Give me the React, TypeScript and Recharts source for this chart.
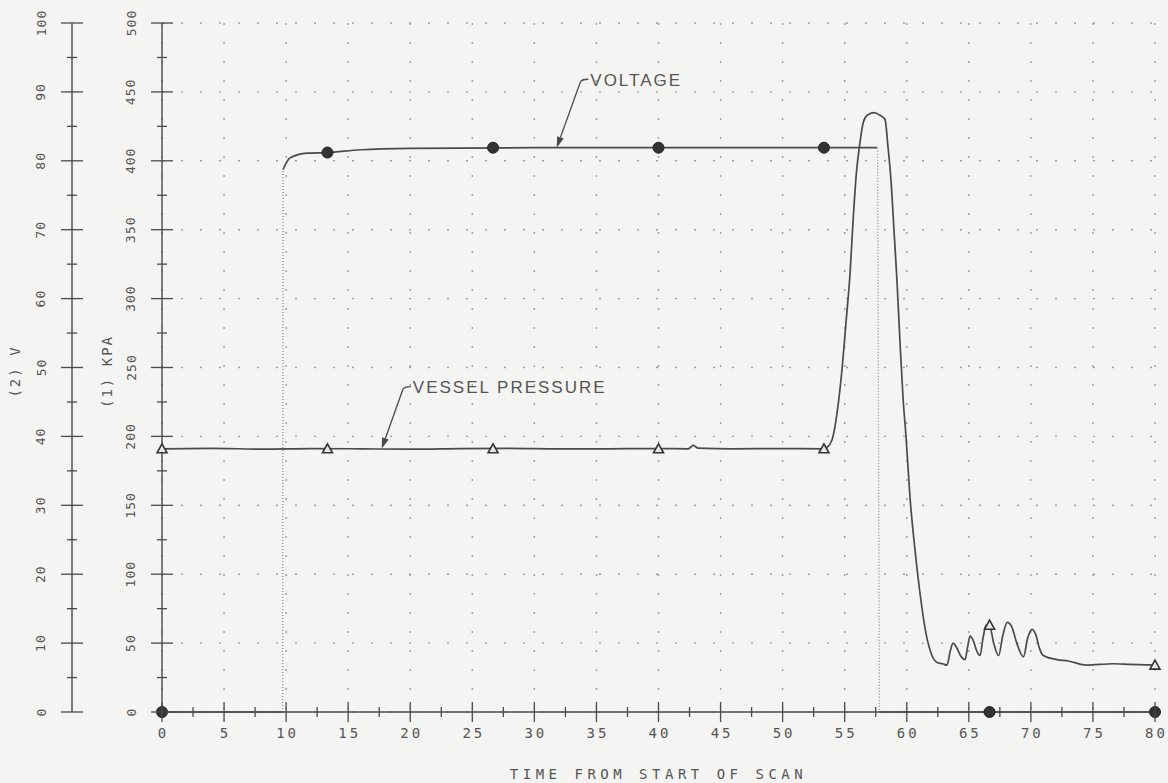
import React from 'react';
import {
  ComposedChart,
  Line,
  Scatter,
  XAxis,
  YAxis,
  CartesianGrid,
  ReferenceLine,
} from 'recharts';

// ---------- data ----------
const timeTicks = [0, 2.5, 5, 7.5, 10, 12.5, 15, 17.5, 20, 22.5, 25, 27.5, 30, 32.5, 35, 37.5, 40, 42.5, 45, 47.5, 50, 52.5, 55, 57.5, 60, 62.5, 65, 67.5, 70, 72.5, 75, 77.5, 80];
const timeGridTicks = [0, 5, 10, 15, 20, 25, 30, 35, 40, 45, 50, 55, 60, 65, 70, 75, 80];
const kpaTicks = [0, 25, 50, 75, 100, 125, 150, 175, 200, 225, 250, 275, 300, 325, 350, 375, 400, 425, 450, 475, 500];
const kpaGridTicks = [0, 50, 100, 150, 200, 250, 300, 350, 400, 450, 500];
const voltTicks = [0, 5, 10, 15, 20, 25, 30, 35, 40, 45, 50, 55, 60, 65, 70, 75, 80, 85, 90, 95, 100];

const pressure = [
  { t: 0, p: 191 }, { t: 4, p: 191.3 }, { t: 8, p: 190.8 }, { t: 12, p: 191.2 },
  { t: 16, p: 191 }, { t: 20, p: 190.7 }, { t: 24, p: 191.1 }, { t: 28, p: 191.3 },
  { t: 32, p: 190.9 }, { t: 36, p: 191 }, { t: 40, p: 191.2 }, { t: 42.4, p: 191 },
  { t: 42.8, p: 193.5 }, { t: 43.2, p: 191.5 }, { t: 46, p: 191 }, { t: 50, p: 191.2 },
  { t: 53.3, p: 191 }, { t: 53.7, p: 193 }, { t: 54.06, p: 200 }, { t: 54.4, p: 218 },
  { t: 54.8, p: 250 }, { t: 55.1, p: 282 }, { t: 55.43, p: 318 }, { t: 55.7, p: 360 },
  { t: 55.95, p: 392 }, { t: 56.21, p: 412 }, { t: 56.5, p: 428 }, { t: 56.8, p: 433 },
  { t: 57.36, p: 435 }, { t: 57.85, p: 433 }, { t: 58.25, p: 430 }, { t: 58.49, p: 410 },
  { t: 58.73, p: 386 }, { t: 58.97, p: 350 }, { t: 59.2, p: 315 }, { t: 59.46, p: 268 },
  { t: 59.7, p: 228 }, { t: 59.94, p: 200 }, { t: 60.26, p: 156 }, { t: 60.66, p: 118 },
  { t: 61.07, p: 86 }, { t: 61.55, p: 57 }, { t: 62.03, p: 41 }, { t: 62.44, p: 36 },
  { t: 62.9, p: 35 }, { t: 63.24, p: 34 }, { t: 63.5, p: 44 }, { t: 63.73, p: 50 },
  { t: 64.0, p: 47 }, { t: 64.4, p: 40 }, { t: 64.7, p: 38 }, { t: 64.9, p: 47 },
  { t: 65.1, p: 55 }, { t: 65.35, p: 52 }, { t: 65.65, p: 44 }, { t: 65.9, p: 41 },
  { t: 66.15, p: 54 }, { t: 66.4, p: 63 }, { t: 66.7, p: 62 }, { t: 67.0, p: 50 },
  { t: 67.4, p: 41 }, { t: 67.75, p: 56 }, { t: 68.1, p: 65 }, { t: 68.45, p: 62 },
  { t: 68.9, p: 49 }, { t: 69.4, p: 40 }, { t: 69.75, p: 54 }, { t: 70.1, p: 60 },
  { t: 70.4, p: 56 }, { t: 70.7, p: 46 }, { t: 71.0, p: 41 }, { t: 72.1, p: 38 },
  { t: 73, p: 37 }, { t: 74.5, p: 34 }, { t: 76.6, p: 35 }, { t: 78, p: 34.5 },
  { t: 80, p: 34 },
];

const voltage = [
  { t: 0, v: 0 }, { t: 9.7, v: 0 }, { t: 9.72, v: null },
  { t: 9.75, v: 78.7 }, { t: 10.3, v: 80.4 }, { t: 11.7, v: 81.1 }, { t: 13.3, v: 81.2 },
  { t: 16, v: 81.6 }, { t: 20, v: 81.8 }, { t: 30, v: 81.9 }, { t: 40, v: 81.9 },
  { t: 50, v: 81.9 }, { t: 57.6, v: 81.9 }, { t: 57.7, v: null },
  { t: 57.8, v: 0 }, { t: 80, v: 0 },
];

const voltageJumps = [
  { t: 9.72, v: 0 }, { t: 9.75, v: 78.7 }, { t: 9.8, v: null },
  { t: 57.65, v: 81.9 }, { t: 57.8, v: 0 },
];

const voltageMarkers = [
  { t: 0, v: 0 }, { t: 13.33, v: 81.2 }, { t: 26.67, v: 81.9 }, { t: 40, v: 81.9 },
  { t: 53.33, v: 81.9 }, { t: 66.67, v: 0 }, { t: 80, v: 0 },
];

const pressureMarkers = [
  { t: 0, p: 191 }, { t: 13.33, p: 191 }, { t: 26.67, p: 191 }, { t: 40, p: 191 },
  { t: 53.33, p: 191 }, { t: 66.67, p: 63 }, { t: 80, p: 34 },
];

const voltageNote = { label: 'VOLTAGE', tip: { t: 31.8, v: 81.9 }, elbow: { t: 33.7, v: 91.4 } };
const pressureNote = { label: 'VESSEL PRESSURE', tip: { t: 17.7, p: 191 }, elbow: { t: 19.4, p: 234 } };

// ---------- styles ----------
const INK = '#4a4a4a';
const TICK_FONT = "'DejaVu Sans Mono', monospace";
const NOTE_FONT = "'Liberation Sans', Arial, sans-serif";

function XTick(props: any) {
  const { x, y, payload } = props;
  const major = payload.value % 5 === 0;
  const h = major ? 10 : 5;
  return (
    <g>
      <line x1={x} x2={x} y1={y - h} y2={y + h} stroke={INK} strokeWidth={1.3} />
      {major && (
        <text x={x + 1.5} y={y + 21} textAnchor="middle" dominantBaseline="central"
          fontFamily={TICK_FONT} fontSize={14} letterSpacing={3} fill="#555">
          {payload.value}
        </text>
      )}
    </g>
  );
}

function makeYTick(labelEvery: number) {
  return function YTick(props: any) {
    const { x, y, payload } = props;
    const major = payload.value % labelEvery === 0;
    const h = major ? 11 : 5;
    const tx = x - 31;
    return (
      <g>
        <line x1={x - h} x2={x + h} y1={y} y2={y} stroke={INK} strokeWidth={1.3} />
        {major && (
          <text x={tx} y={y} transform={`rotate(-90, ${tx}, ${y})`} textAnchor="middle"
            dominantBaseline="central" fontFamily={TICK_FONT} fontSize={13} letterSpacing={1} fill="#555">
            {payload.value}
          </text>
        )}
      </g>
    );
  };
}

const VTick = makeYTick(10);
const PTick = makeYTick(50);

function AxisTitle(props: any) {
  const { viewBox, text, dx } = props;
  if (!viewBox) return null;
  const cx = viewBox.x + dx;
  const cy = viewBox.y + viewBox.height / 2 + 4;
  return (
    <text x={cx} y={cy} transform={`rotate(-90, ${cx}, ${cy})`} textAnchor="middle"
      dominantBaseline="central" fontFamily={TICK_FONT} fontSize={14} letterSpacing={2} fill="#555">
      {text}
    </text>
  );
}

function makeNote(label: string) {
  return function Note(props: any) {
    const { x1, y1, x2, y2 } = props;
    if ([x1, y1, x2, y2].some((n) => typeof n !== 'number' || isNaN(n))) return null;
    const ang = Math.atan2(y1 - y2, x1 - x2);
    const len = 11;
    const w = 3.5;
    const bx = x1 - len * Math.cos(ang);
    const by = y1 - len * Math.sin(ang);
    const px = -Math.sin(ang) * w;
    const py = Math.cos(ang) * w;
    return (
      <g>
        <line x1={x2} y1={y2} x2={bx} y2={by} stroke={INK} strokeWidth={1.3} />
        <path d={`M${x1},${y1} L${bx + px},${by + py} L${bx - px},${by - py} Z`} fill={INK} />
        <path d={`M${x2},${y2} Q${x2 + 1},${y2 - 3} ${x2 + 8},${y2 - 3}`} stroke={INK} strokeWidth={1.3} fill="none" />
        <text x={x2 + 10} y={y2 - 2} dominantBaseline="central" fontFamily={NOTE_FONT}
          fontSize={17} letterSpacing={2} fill="#555">
          {label}
        </text>
      </g>
    );
  };
}

const VoltNote = makeNote(voltageNote.label);
const PressNote = makeNote(pressureNote.label);

const Circle = (props: any) => {
  const { cx, cy } = props;
  if (typeof cx !== 'number' || typeof cy !== 'number') return null;
  return <circle cx={cx} cy={cy} r={5.5} fill="#333" stroke="#222" strokeWidth={1} />;
};

const Triangle = (props: any) => {
  const { cx, cy } = props;
  if (typeof cx !== 'number' || typeof cy !== 'number') return null;
  const s = 5;
  return (
    <path d={`M${cx},${cy - s} L${cx + s},${cy + s * 0.8} L${cx - s},${cy + s * 0.8} Z`}
      fill="#e8e8e6" stroke="#333" strokeWidth={1.6} />
  );
};

export default function App() {
  return (
    <div style={{ position: 'fixed', inset: 0, background: '#f4f4f2', padding: 8, boxSizing: 'border-box' }}>
      <ComposedChart width={1160} height={775} margin={{ top: 15, right: 13, left: 0, bottom: 1 }}>
        <XAxis dataKey="t" type="number" domain={[0, 80]} ticks={timeTicks} interval={0}
          height={70} tickSize={0} tickMargin={0} tickLine={false}
          axisLine={{ stroke: INK, strokeWidth: 1.6 }} tick={<XTick />}
          label={{ value: 'TIME FROM START OF SCAN', position: 'insideBottom', offset: 3,
            style: { fontFamily: TICK_FONT, fontSize: 14, letterSpacing: 4.5, fill: '#555' } }} />
        <YAxis yAxisId="p" type="number" domain={[0, 500]} ticks={kpaTicks} interval={0}
          width={90} tickSize={0} tickMargin={0} tickLine={false}
          axisLine={{ stroke: INK, strokeWidth: 1.4 }} tick={<PTick />}
          label={<AxisTitle text="(1) KPA" dx={35} />} />
        <YAxis yAxisId="v" type="number" domain={[0, 100]} ticks={voltTicks} interval={0}
          width={64} tickSize={0} tickMargin={0} tickLine={false}
          axisLine={{ stroke: INK, strokeWidth: 1.4 }} tick={<VTick />}
          label={<AxisTitle text="(2) V" dx={7} />} />
        <CartesianGrid yAxisId="p" horizontalValues={kpaGridTicks} verticalValues={timeGridTicks}
          stroke="#9d9d9d" strokeDasharray="2 17" strokeWidth={1.4} />

        <Line yAxisId="v" data={voltageJumps} dataKey="v" type="linear" stroke="#8a8a8a"
          strokeWidth={1.3} strokeDasharray="1 2" dot={false} connectNulls={false} isAnimationActive={false} />
        <Line yAxisId="v" data={voltage} dataKey="v" type="monotone" stroke={INK}
          strokeWidth={1.7} dot={false} connectNulls={false} isAnimationActive={false} />
        <Line yAxisId="p" data={pressure} dataKey="p" type="monotone" stroke={INK}
          strokeWidth={1.7} dot={false} isAnimationActive={false} />

        <Scatter yAxisId="v" data={voltageMarkers} dataKey="v" shape={<Circle />} isAnimationActive={false} />
        <Scatter yAxisId="p" data={pressureMarkers} dataKey="p" shape={<Triangle />} isAnimationActive={false} />

        <ReferenceLine yAxisId="v"
          segment={[{ x: voltageNote.tip.t, y: voltageNote.tip.v }, { x: voltageNote.elbow.t, y: voltageNote.elbow.v }]}
          shape={(p: any) => <VoltNote {...p} />} />
        <ReferenceLine yAxisId="p"
          segment={[{ x: pressureNote.tip.t, y: pressureNote.tip.p }, { x: pressureNote.elbow.t, y: pressureNote.elbow.p }]}
          shape={(p: any) => <PressNote {...p} />} />
      </ComposedChart>
    </div>
  );
}
